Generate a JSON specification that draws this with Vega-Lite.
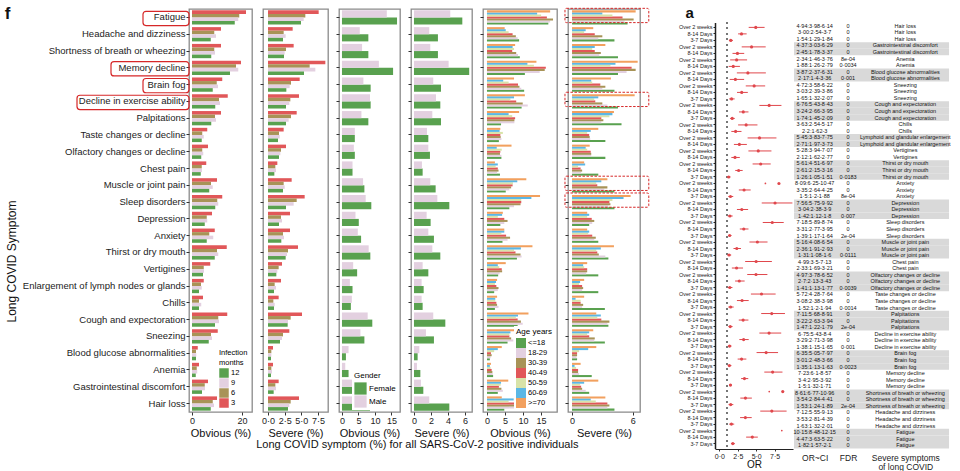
{
"$schema": "https://vega.github.io/schema/vega-lite/v6.json",
"padding": {"left": 4, "top": 5, "right": 0, "bottom": 0},
"resolve": {"scale": {"color": "independent", "yOffset": "independent", "y": "independent", "x": "independent"}, "legend": {"color": "independent"}},
"config": {
  "font": "Liberation Sans",
  "view": {"stroke": null},
  "axis": {"grid": false, "labelColor": "#222", "titleColor": "#111", "tickColor": "#333", "labelFontSize": 9, "titleFontSize": 11, "titleFontWeight": "normal", "tickSize": 3, "labelPadding": 1, "titlePadding": 2, "domainColor": "#111"},
  "axisX": {"labelOverlap": false},
  "legend": {"labelFontSize": 7.5, "titleFontSize": 7.5, "titleFontWeight": "normal", "symbolType": "square", "orient": "bottom-right", "fillColor": "white", "padding": 2, "offset": 2, "rowPadding": 0, "symbolStrokeWidth": 0, "symbolSize": 90, "labelOffset": 2, "titlePadding": 2},
  "title": {"font": "Liberation Sans", "color": "#111"}
},
"datasets": {
"months": [
{"s":"Fatigue","m":"3","ob":21.6,"sv":7.6},{"s":"Fatigue","m":"6","ob":18.9,"sv":5.6},{"s":"Fatigue","m":"9","ob":18.5,"sv":5.35},{"s":"Fatigue","m":"12","ob":17.1,"sv":4.95},
{"s":"Headache and dizziness","m":"3","ob":11.6,"sv":3.7},{"s":"Headache and dizziness","m":"6","ob":8.9,"sv":2.35},{"s":"Headache and dizziness","m":"9","ob":9.6,"sv":2.65},{"s":"Headache and dizziness","m":"12","ob":7.5,"sv":2.25},
{"s":"Shortness of breath or wheezing","m":"3","ob":11.6,"sv":3.85},{"s":"Shortness of breath or wheezing","m":"6","ob":8.9,"sv":2.7},{"s":"Shortness of breath or wheezing","m":"9","ob":9.2,"sv":2.5},{"s":"Shortness of breath or wheezing","m":"12","ob":7.7,"sv":2.4},
{"s":"Memory decline","m":"3","ob":19.6,"sv":8.6},{"s":"Memory decline","m":"6","ob":17.6,"sv":6.25},{"s":"Memory decline","m":"9","ob":18.5,"sv":7.1},{"s":"Memory decline","m":"12","ob":15.2,"sv":5.4},
{"s":"Brain fog","m":"3","ob":12.1,"sv":4.75},{"s":"Brain fog","m":"6","ob":9.9,"sv":3.45},{"s":"Brain fog","m":"9","ob":10.4,"sv":3.25},{"s":"Brain fog","m":"12","ob":8.3,"sv":2.75},
{"s":"Decline in exercise ability","m":"3","ob":14.3,"sv":4.65},{"s":"Decline in exercise ability","m":"6","ob":10.8,"sv":3.35},{"s":"Decline in exercise ability","m":"9","ob":11.2,"sv":3.2},{"s":"Decline in exercise ability","m":"12","ob":9.3,"sv":2.7},
{"s":"Palpitations","m":"3","ob":11.6,"sv":4.3},{"s":"Palpitations","m":"6","ob":9.2,"sv":3.45},{"s":"Palpitations","m":"9","ob":9.6,"sv":3.1},{"s":"Palpitations","m":"12","ob":7.7,"sv":2.7},
{"s":"Taste changes or decline","m":"3","ob":6.1,"sv":2.35},{"s":"Taste changes or decline","m":"6","ob":4.1,"sv":1.65},{"s":"Taste changes or decline","m":"9","ob":4.7,"sv":1.75},{"s":"Taste changes or decline","m":"12","ob":3.9,"sv":1.5},
{"s":"Olfactory changes or decline","m":"3","ob":6.4,"sv":2.7},{"s":"Olfactory changes or decline","m":"6","ob":4.1,"sv":1.95},{"s":"Olfactory changes or decline","m":"9","ob":4.5,"sv":1.85},{"s":"Olfactory changes or decline","m":"12","ob":3.7,"sv":1.65},
{"s":"Chest pain","m":"3","ob":5.7,"sv":1.4},{"s":"Chest pain","m":"6","ob":3.9,"sv":1.1},{"s":"Chest pain","m":"9","ob":4.0,"sv":1.2},{"s":"Chest pain","m":"12","ob":3.5,"sv":0.95},
{"s":"Muscle or joint pain","m":"3","ob":10.0,"sv":3.55},{"s":"Muscle or joint pain","m":"6","ob":7.6,"sv":2.35},{"s":"Muscle or joint pain","m":"9","ob":8.3,"sv":2.5},{"s":"Muscle or joint pain","m":"12","ob":6.9,"sv":2.25},
{"s":"Sleep disorders","m":"3","ob":12.1,"sv":5.5},{"s":"Sleep disorders","m":"6","ob":10.1,"sv":4.3},{"s":"Sleep disorders","m":"9","ob":10.5,"sv":3.85},{"s":"Sleep disorders","m":"12","ob":9.3,"sv":2.7},
{"s":"Depression","m":"3","ob":8.0,"sv":3.3},{"s":"Depression","m":"6","ob":5.9,"sv":1.95},{"s":"Depression","m":"9","ob":6.1,"sv":2.1},{"s":"Depression","m":"12","ob":5.1,"sv":1.65},
{"s":"Anxiety","m":"3","ob":9.1,"sv":3.3},{"s":"Anxiety","m":"6","ob":6.9,"sv":2.25},{"s":"Anxiety","m":"9","ob":8.5,"sv":2.4},{"s":"Anxiety","m":"12","ob":5.9,"sv":2.0},
{"s":"Thirst or dry mouth","m":"3","ob":13.9,"sv":4.5},{"s":"Thirst or dry mouth","m":"6","ob":10.0,"sv":3.0},{"s":"Thirst or dry mouth","m":"9","ob":10.5,"sv":2.85},{"s":"Thirst or dry mouth","m":"12","ob":9.1,"sv":2.65},
{"s":"Vertigines","m":"3","ob":7.3,"sv":2.1},{"s":"Vertigines","m":"6","ob":4.7,"sv":1.6},{"s":"Vertigines","m":"9","ob":4.8,"sv":1.4},{"s":"Vertigines","m":"12","ob":4.4,"sv":1.25},
{"s":"Enlargement of lymph nodes or glands","m":"3","ob":4.7,"sv":1.95},{"s":"Enlargement of lymph nodes or glands","m":"6","ob":3.6,"sv":1.0},{"s":"Enlargement of lymph nodes or glands","m":"9","ob":3.9,"sv":1.2},{"s":"Enlargement of lymph nodes or glands","m":"12","ob":2.8,"sv":0.9},
{"s":"Chills","m":"3","ob":4.4,"sv":1.6},{"s":"Chills","m":"6","ob":2.8,"sv":0.8},{"s":"Chills","m":"9","ob":3.7,"sv":1.0},{"s":"Chills","m":"12","ob":2.8,"sv":0.9},
{"s":"Cough and expectoration","m":"3","ob":14.1,"sv":5.1},{"s":"Cough and expectoration","m":"6","ob":10.5,"sv":3.4},{"s":"Cough and expectoration","m":"9","ob":10.8,"sv":3.0},{"s":"Cough and expectoration","m":"12","ob":9.2,"sv":2.95},
{"s":"Sneezing","m":"3","ob":10.3,"sv":3.2},{"s":"Sneezing","m":"6","ob":7.6,"sv":2.25},{"s":"Sneezing","m":"9","ob":8.0,"sv":2.1},{"s":"Sneezing","m":"12","ob":6.7,"sv":1.8},
{"s":"Blood glucose abnormalities","m":"3","ob":2.3,"sv":0.75},{"s":"Blood glucose abnormalities","m":"6","ob":1.6,"sv":0.5},{"s":"Blood glucose abnormalities","m":"9","ob":1.7,"sv":0.5},{"s":"Blood glucose abnormalities","m":"12","ob":1.6,"sv":0.45},
{"s":"Anemia","m":"3","ob":2.8,"sv":0.75},{"s":"Anemia","m":"6","ob":1.9,"sv":0.5},{"s":"Anemia","m":"9","ob":2.1,"sv":0.6},{"s":"Anemia","m":"12","ob":1.5,"sv":0.45},
{"s":"Gastrointestinal discomfort","m":"3","ob":6.4,"sv":1.6},{"s":"Gastrointestinal discomfort","m":"6","ob":5.1,"sv":1.1},{"s":"Gastrointestinal discomfort","m":"9","ob":5.2,"sv":1.2},{"s":"Gastrointestinal discomfort","m":"12","ob":4.0,"sv":0.85},
{"s":"Hair loss","m":"3","ob":10.3,"sv":4.65},{"s":"Hair loss","m":"6","ob":8.3,"sv":3.4},{"s":"Hair loss","m":"9","ob":8.8,"sv":3.2},{"s":"Hair loss","m":"12","ob":7.5,"sv":3.0}
],
"gender": [
{"s":"Fatigue","g":"Female","ob":16.7,"sv":5.69},{"s":"Fatigue","g":"Male","ob":13.6,"sv":4.27},
{"s":"Headache and dizziness","g":"Female","ob":8.0,"sv":2.82},{"s":"Headache and dizziness","g":"Male","ob":5.4,"sv":1.8},
{"s":"Shortness of breath or wheezing","g":"Female","ob":8.0,"sv":2.82},{"s":"Shortness of breath or wheezing","g":"Male","ob":6.1,"sv":1.92},
{"s":"Memory decline","g":"Female","ob":15.5,"sv":6.5},{"s":"Memory decline","g":"Male","ob":11.2,"sv":4.08},
{"s":"Brain fog","g":"Female","ob":8.7,"sv":3.18},{"s":"Brain fog","g":"Male","ob":6.5,"sv":2.27},
{"s":"Decline in exercise ability","g":"Female","ob":8.7,"sv":3.1},{"s":"Decline in exercise ability","g":"Male","ob":8.5,"sv":2.59},
{"s":"Palpitations","g":"Female","ob":8.0,"sv":3.18},{"s":"Palpitations","g":"Male","ob":5.9,"sv":2.16},
{"s":"Taste changes or decline","g":"Female","ob":3.9,"sv":1.69},{"s":"Taste changes or decline","g":"Male","ob":3.9,"sv":1.53},
{"s":"Olfactory changes or decline","g":"Female","ob":3.9,"sv":1.88},{"s":"Olfactory changes or decline","g":"Male","ob":3.6,"sv":1.69},
{"s":"Chest pain","g":"Female","ob":3.2,"sv":1.02},{"s":"Chest pain","g":"Male","ob":3.2,"sv":0.94},
{"s":"Muscle or joint pain","g":"Female","ob":6.8,"sv":2.55},{"s":"Muscle or joint pain","g":"Male","ob":6.4,"sv":1.92},
{"s":"Sleep disorders","g":"Female","ob":8.9,"sv":4.16},{"s":"Sleep disorders","g":"Male","ob":7.2,"sv":2.75},
{"s":"Depression","g":"Female","ob":5.1,"sv":1.96},{"s":"Depression","g":"Male","ob":4.1,"sv":1.49},
{"s":"Anxiety","g":"Female","ob":5.8,"sv":2.35},{"s":"Anxiety","g":"Male","ob":4.8,"sv":1.69},
{"s":"Thirst or dry mouth","g":"Female","ob":8.6,"sv":3.1},{"s":"Thirst or dry mouth","g":"Male","ob":8.1,"sv":2.16},
{"s":"Vertigines","g":"Female","ob":4.6,"sv":1.69},{"s":"Vertigines","g":"Male","ob":3.4,"sv":1.02},
{"s":"Enlargement of lymph nodes or glands","g":"Female","ob":3.2,"sv":1.14},{"s":"Enlargement of lymph nodes or glands","g":"Male","ob":2.4,"sv":0.9},
{"s":"Chills","g":"Female","ob":2.7,"sv":1.02},{"s":"Chills","g":"Male","ob":3.0,"sv":0.9},
{"s":"Cough and expectoration","g":"Female","ob":9.2,"sv":3.69},{"s":"Cough and expectoration","g":"Male","ob":7.8,"sv":2.27},
{"s":"Sneezing","g":"Female","ob":6.8,"sv":2.35},{"s":"Sneezing","g":"Male","ob":5.6,"sv":1.41},
{"s":"Blood glucose abnormalities","g":"Female","ob":1.2,"sv":0.43},{"s":"Blood glucose abnormalities","g":"Male","ob":2.0,"sv":0.63},
{"s":"Anemia","g":"Female","ob":2.0,"sv":0.75},{"s":"Anemia","g":"Male","ob":1.0,"sv":0.35},
{"s":"Gastrointestinal discomfort","g":"Female","ob":4.1,"sv":1.1},{"s":"Gastrointestinal discomfort","g":"Male","ob":3.8,"sv":0.82},
{"s":"Hair loss","g":"Female","ob":8.5,"sv":4.16},{"s":"Hair loss","g":"Male","ob":4.6,"sv":1.8}
],
"age": [
{"s":"Fatigue","a":"<=18","ob":17.0,"sv":5.5},{"s":"Fatigue","a":"18-29","ob":17.5,"sv":5.2},{"s":"Fatigue","a":"30-39","ob":18.3,"sv":6.1},{"s":"Fatigue","a":"40-49","ob":16.6,"sv":5.0},{"s":"Fatigue","a":"50-59","ob":15.0,"sv":4.0},{"s":"Fatigue","a":"60-69","ob":13.9,"sv":3.0},{"s":"Fatigue","a":">=70","ob":17.5,"sv":6.3},
{"s":"Headache and dizziness","a":"<=18","ob":8.9,"sv":4.2},{"s":"Headache and dizziness","a":"18-29","ob":8.5,"sv":2.6},{"s":"Headache and dizziness","a":"30-39","ob":8.0,"sv":3.0},{"s":"Headache and dizziness","a":"40-49","ob":7.1,"sv":2.25},{"s":"Headache and dizziness","a":"50-59","ob":6.0,"sv":1.2},{"s":"Headache and dizziness","a":"60-69","ob":5.2,"sv":1.35},{"s":"Headache and dizziness","a":">=70","ob":4.9,"sv":2.1},
{"s":"Shortness of breath or wheezing","a":"<=18","ob":9.1,"sv":4.55},{"s":"Shortness of breath or wheezing","a":"18-29","ob":8.6,"sv":2.7},{"s":"Shortness of breath or wheezing","a":"30-39","ob":8.1,"sv":2.85},{"s":"Shortness of breath or wheezing","a":"40-49","ob":7.0,"sv":2.25},{"s":"Shortness of breath or wheezing","a":"50-59","ob":7.5,"sv":2.0},{"s":"Shortness of breath or wheezing","a":"60-69","ob":7.1,"sv":2.25},{"s":"Shortness of breath or wheezing","a":">=70","ob":7.8,"sv":3.3},
{"s":"Memory decline","a":"<=18","ob":10.5,"sv":4.55},{"s":"Memory decline","a":"18-29","ob":14.6,"sv":5.4},{"s":"Memory decline","a":"30-39","ob":16.0,"sv":6.3},{"s":"Memory decline","a":"40-49","ob":16.3,"sv":5.9},{"s":"Memory decline","a":"50-59","ob":13.0,"sv":3.8},{"s":"Memory decline","a":"60-69","ob":11.2,"sv":4.3},{"s":"Memory decline","a":">=70","ob":13.7,"sv":6.5},
{"s":"Brain fog","a":"<=18","ob":10.3,"sv":4.2},{"s":"Brain fog","a":"18-29","ob":9.5,"sv":3.0},{"s":"Brain fog","a":"30-39","ob":9.0,"sv":3.3},{"s":"Brain fog","a":"40-49","ob":8.6,"sv":2.8},{"s":"Brain fog","a":"50-59","ob":6.0,"sv":2.0},{"s":"Brain fog","a":"60-69","ob":4.5,"sv":1.9},{"s":"Brain fog","a":">=70","ob":7.5,"sv":3.85},
{"s":"Decline in exercise ability","a":"<=18","ob":9.6,"sv":4.55},{"s":"Decline in exercise ability","a":"18-29","ob":11.3,"sv":3.5},{"s":"Decline in exercise ability","a":"30-39","ob":9.9,"sv":3.0},{"s":"Decline in exercise ability","a":"40-49","ob":8.1,"sv":2.3},{"s":"Decline in exercise ability","a":"50-59","ob":6.5,"sv":2.2},{"s":"Decline in exercise ability","a":"60-69","ob":7.5,"sv":2.6},{"s":"Decline in exercise ability","a":">=70","ob":10.5,"sv":6.2},
{"s":"Palpitations","a":"<=18","ob":3.9,"sv":4.9},{"s":"Palpitations","a":"18-29","ob":7.6,"sv":2.9},{"s":"Palpitations","a":"30-39","ob":7.6,"sv":3.1},{"s":"Palpitations","a":"40-49","ob":7.8,"sv":2.9},{"s":"Palpitations","a":"50-59","ob":7.0,"sv":3.7},{"s":"Palpitations","a":"60-69","ob":6.0,"sv":4.0},{"s":"Palpitations","a":">=70","ob":8.9,"sv":4.15},
{"s":"Taste changes or decline","a":"<=18","ob":3.3,"sv":3.3},{"s":"Taste changes or decline","a":"18-29","ob":4.0,"sv":1.8},{"s":"Taste changes or decline","a":"30-39","ob":3.8,"sv":1.75},{"s":"Taste changes or decline","a":"40-49","ob":3.7,"sv":1.7},{"s":"Taste changes or decline","a":"50-59","ob":4.4,"sv":1.5},{"s":"Taste changes or decline","a":"60-69","ob":3.5,"sv":1.85},{"s":"Taste changes or decline","a":">=70","ob":3.7,"sv":2.6},
{"s":"Olfactory changes or decline","a":"<=18","ob":4.0,"sv":3.3},{"s":"Olfactory changes or decline","a":"18-29","ob":4.0,"sv":1.9},{"s":"Olfactory changes or decline","a":"30-39","ob":3.6,"sv":1.9},{"s":"Olfactory changes or decline","a":"40-49","ob":3.7,"sv":1.85},{"s":"Olfactory changes or decline","a":"50-59","ob":4.1,"sv":1.5},{"s":"Olfactory changes or decline","a":"60-69","ob":2.7,"sv":1.35},{"s":"Olfactory changes or decline","a":">=70","ob":6.8,"sv":1.75},
{"s":"Chest pain","a":"<=18","ob":3.6,"sv":2.6},{"s":"Chest pain","a":"18-29","ob":2.8,"sv":0.9},{"s":"Chest pain","a":"30-39","ob":3.2,"sv":1.0},{"s":"Chest pain","a":"40-49","ob":3.0,"sv":0.85},{"s":"Chest pain","a":"50-59","ob":2.4,"sv":0.6},{"s":"Chest pain","a":"60-69","ob":3.0,"sv":1.3},{"s":"Chest pain","a":">=70","ob":2.2,"sv":1.2},
{"s":"Muscle or joint pain","a":"<=18","ob":5.2,"sv":4.2},{"s":"Muscle or joint pain","a":"18-29","ob":6.2,"sv":3.2},{"s":"Muscle or joint pain","a":"30-39","ob":6.7,"sv":3.5},{"s":"Muscle or joint pain","a":"40-49","ob":7.1,"sv":2.5},{"s":"Muscle or joint pain","a":"50-59","ob":7.2,"sv":2.4},{"s":"Muscle or joint pain","a":"60-69","ob":8.4,"sv":2.9},{"s":"Muscle or joint pain","a":">=70","ob":10.9,"sv":3.5},
{"s":"Sleep disorders","a":"<=18","ob":6.2,"sv":4.2},{"s":"Sleep disorders","a":"18-29","ob":7.5,"sv":3.6},{"s":"Sleep disorders","a":"30-39","ob":9.3,"sv":3.8},{"s":"Sleep disorders","a":"40-49","ob":9.5,"sv":3.7},{"s":"Sleep disorders","a":"50-59","ob":9.5,"sv":4.0},{"s":"Sleep disorders","a":"60-69","ob":12.3,"sv":5.1},{"s":"Sleep disorders","a":">=70","ob":14.7,"sv":5.8},
{"s":"Depression","a":"<=18","ob":3.7,"sv":1.7},{"s":"Depression","a":"18-29","ob":4.8,"sv":2.0},{"s":"Depression","a":"30-39","ob":5.7,"sv":2.2},{"s":"Depression","a":"40-49","ob":4.8,"sv":1.95},{"s":"Depression","a":"50-59","ob":3.0,"sv":1.5},{"s":"Depression","a":"60-69","ob":4.2,"sv":1.7},{"s":"Depression","a":">=70","ob":4.4,"sv":1.5},
{"s":"Anxiety","a":"<=18","ob":4.3,"sv":2.6},{"s":"Anxiety","a":"18-29","ob":5.7,"sv":2.2},{"s":"Anxiety","a":"30-39","ob":6.4,"sv":2.35},{"s":"Anxiety","a":"40-49","ob":5.3,"sv":2.0},{"s":"Anxiety","a":"50-59","ob":4.0,"sv":1.6},{"s":"Anxiety","a":"60-69","ob":4.8,"sv":1.7},{"s":"Anxiety","a":">=70","ob":4.8,"sv":1.5},
{"s":"Thirst or dry mouth","a":"<=18","ob":8.3,"sv":3.6},{"s":"Thirst or dry mouth","a":"18-29","ob":9.6,"sv":3.3},{"s":"Thirst or dry mouth","a":"30-39","ob":9.3,"sv":2.65},{"s":"Thirst or dry mouth","a":"40-49","ob":7.9,"sv":2.5},{"s":"Thirst or dry mouth","a":"50-59","ob":7.5,"sv":2.4},{"s":"Thirst or dry mouth","a":"60-69","ob":9.4,"sv":2.85},{"s":"Thirst or dry mouth","a":">=70","ob":12.6,"sv":4.15},
{"s":"Vertigines","a":"<=18","ob":3.1,"sv":2.6},{"s":"Vertigines","a":"18-29","ob":3.5,"sv":1.4},{"s":"Vertigines","a":"30-39","ob":4.2,"sv":1.5},{"s":"Vertigines","a":"40-49","ob":4.1,"sv":1.5},{"s":"Vertigines","a":"50-59","ob":3.4,"sv":1.2},{"s":"Vertigines","a":"60-69","ob":3.0,"sv":1.1},{"s":"Vertigines","a":">=70","ob":5.2,"sv":1.5},
{"s":"Enlargement of lymph nodes or glands","a":"<=18","ob":2.0,"sv":2.6},{"s":"Enlargement of lymph nodes or glands","a":"18-29","ob":3.0,"sv":1.0},{"s":"Enlargement of lymph nodes or glands","a":"30-39","ob":3.2,"sv":1.1},{"s":"Enlargement of lymph nodes or glands","a":"40-49","ob":2.6,"sv":1.0},{"s":"Enlargement of lymph nodes or glands","a":"50-59","ob":2.2,"sv":0.7},{"s":"Enlargement of lymph nodes or glands","a":"60-69","ob":2.5,"sv":0.8},{"s":"Enlargement of lymph nodes or glands","a":">=70","ob":2.8,"sv":1.2},
{"s":"Chills","a":"<=18","ob":2.2,"sv":3.25},{"s":"Chills","a":"18-29","ob":3.2,"sv":1.0},{"s":"Chills","a":"30-39","ob":2.8,"sv":1.1},{"s":"Chills","a":"40-49","ob":2.6,"sv":0.85},{"s":"Chills","a":"50-59","ob":2.3,"sv":0.85},{"s":"Chills","a":"60-69","ob":2.3,"sv":0.35},{"s":"Chills","a":">=70","ob":2.8,"sv":1.2},
{"s":"Cough and expectoration","a":"<=18","ob":8.5,"sv":3.6},{"s":"Cough and expectoration","a":"18-29","ob":9.9,"sv":3.5},{"s":"Cough and expectoration","a":"30-39","ob":9.4,"sv":3.7},{"s":"Cough and expectoration","a":"40-49","ob":8.5,"sv":2.9},{"s":"Cough and expectoration","a":"50-59","ob":8.0,"sv":2.5},{"s":"Cough and expectoration","a":"60-69","ob":8.6,"sv":2.85},{"s":"Cough and expectoration","a":">=70","ob":11.5,"sv":2.4},
{"s":"Sneezing","a":"<=18","ob":5.7,"sv":3.25},{"s":"Sneezing","a":"18-29","ob":7.3,"sv":2.2},{"s":"Sneezing","a":"30-39","ob":6.7,"sv":2.25},{"s":"Sneezing","a":"40-49","ob":6.2,"sv":1.7},{"s":"Sneezing","a":"50-59","ob":6.2,"sv":1.5},{"s":"Sneezing","a":"60-69","ob":6.5,"sv":1.7},{"s":"Sneezing","a":">=70","ob":10.6,"sv":2.1},
{"s":"Blood glucose abnormalities","a":"<=18","ob":0.8,"sv":0.5},{"s":"Blood glucose abnormalities","a":"18-29","ob":1.0,"sv":0.45},{"s":"Blood glucose abnormalities","a":"30-39","ob":1.3,"sv":0.5},{"s":"Blood glucose abnormalities","a":"40-49","ob":1.1,"sv":0.5},{"s":"Blood glucose abnormalities","a":"50-59","ob":2.0,"sv":0.7},{"s":"Blood glucose abnormalities","a":"60-69","ob":3.0,"sv":1.6},{"s":"Blood glucose abnormalities","a":">=70","ob":4.1,"sv":2.4},
{"s":"Anemia","a":"<=18","ob":1.7,"sv":1.95},{"s":"Anemia","a":"18-29","ob":1.6,"sv":0.7},{"s":"Anemia","a":"30-39","ob":1.5,"sv":0.6},{"s":"Anemia","a":"40-49","ob":1.3,"sv":0.6},{"s":"Anemia","a":"50-59","ob":1.0,"sv":0.4},{"s":"Anemia","a":"60-69","ob":0.8,"sv":0.25},{"s":"Anemia","a":">=70","ob":1.1,"sv":0.85},
{"s":"Gastrointestinal discomfort","a":"<=18","ob":3.0,"sv":1.7},{"s":"Gastrointestinal discomfort","a":"18-29","ob":4.4,"sv":1.35},{"s":"Gastrointestinal discomfort","a":"30-39","ob":4.0,"sv":1.0},{"s":"Gastrointestinal discomfort","a":"40-49","ob":3.3,"sv":0.9},{"s":"Gastrointestinal discomfort","a":"50-59","ob":3.8,"sv":0.8},{"s":"Gastrointestinal discomfort","a":"60-69","ob":3.9,"sv":1.2},{"s":"Gastrointestinal discomfort","a":">=70","ob":5.9,"sv":2.6},
{"s":"Hair loss","a":"<=18","ob":4.8,"sv":4.2},{"s":"Hair loss","a":"18-29","ob":7.8,"sv":3.5},{"s":"Hair loss","a":"30-39","ob":8.1,"sv":3.7},{"s":"Hair loss","a":"40-49","ob":7.6,"sv":3.5},{"s":"Hair loss","a":"50-59","ob":6.0,"sv":2.35},{"s":"Hair loss","a":"60-69","ob":7.4,"sv":1.85},{"s":"Hair loss","a":">=70","ob":4.1,"sv":3.3}
],
"forest": [
{"k":"01 Over 2 weeks","s":"Hair loss","or":4.94,"lo":3.98,"hi":6.14,"t":"4·94:3·98-6·14","f":"0"},
{"k":"02 8-14 Days","s":"Hair loss","or":3.00,"lo":2.54,"hi":3.70,"t":"3·00:2·54-3·7","f":"0"},
{"k":"03 3-7 Days","s":"Hair loss","or":1.54,"lo":1.29,"hi":1.84,"t":"1·54:1·29-1·84","f":"0"},
{"k":"04 Over 2 weeks","s":"Gastrointestinal discomfort","or":4.37,"lo":3.03,"hi":6.29,"t":"4·37:3·03-6·29","f":"0"},
{"k":"05 8-14 Days","s":"Gastrointestinal discomfort","or":2.45,"lo":1.78,"hi":3.37,"t":"2·45:1·78-3·37","f":"0"},
{"k":"06 Over 2 weeks","s":"Anemia","or":2.34,"lo":1.46,"hi":3.76,"t":"2·34:1·46-3·76","f":"8e-04"},
{"k":"07 8-14 Days","s":"Anemia","or":1.88,"lo":1.26,"hi":2.79,"t":"1·88:1·26-2·79","f":"0·0034"},
{"k":"08 Over 2 weeks","s":"Blood glucose abnormalities","or":3.87,"lo":2.37,"hi":6.31,"t":"3·87:2·37-6·31","f":"0"},
{"k":"09 8-14 Days","s":"Blood glucose abnormalities","or":2.17,"lo":1.40,"hi":3.36,"t":"2·17:1·4-3·36","f":"0·001"},
{"k":"10 Over 2 weeks","s":"Sneezing","or":4.72,"lo":3.58,"hi":6.22,"t":"4·72:3·58-6·22","f":"0"},
{"k":"11 8-14 Days","s":"Sneezing","or":3.03,"lo":2.39,"hi":3.86,"t":"3·03:2·39-3·86","f":"0"},
{"k":"12 3-7 Days","s":"Sneezing","or":1.65,"lo":1.32,"hi":2.07,"t":"1·65:1·32-2·07","f":"0"},
{"k":"13 Over 2 weeks","s":"Cough and expectoration","or":6.76,"lo":5.43,"hi":8.43,"t":"6·76:5·43-8·43","f":"0"},
{"k":"14 8-14 Days","s":"Cough and expectoration","or":3.24,"lo":2.66,"hi":3.95,"t":"3·24:2·66-3·95","f":"0"},
{"k":"15 3-7 Days","s":"Cough and expectoration","or":1.74,"lo":1.45,"hi":2.09,"t":"1·74:1·45-2·09","f":"0"},
{"k":"16 Over 2 weeks","s":"Chills","or":3.63,"lo":2.54,"hi":5.17,"t":"3·63:2·54-5·17","f":"0"},
{"k":"17 8-14 Days","s":"Chills","or":2.20,"lo":1.62,"hi":3.00,"t":"2·2:1·62-3","f":"0"},
{"k":"18 Over 2 weeks","s":"Lymphoid and glandular enlargement","or":5.45,"lo":3.83,"hi":7.75,"t":"5·45:3·83-7·75","f":"0"},
{"k":"19 8-14 Days","s":"Lymphoid and glandular enlargement","or":2.71,"lo":1.97,"hi":3.73,"t":"2·71:1·97-3·73","f":"0"},
{"k":"20 Over 2 weeks","s":"Vertigines","or":5.28,"lo":3.94,"hi":7.07,"t":"5·28:3·94-7·07","f":"0"},
{"k":"21 8-14 Days","s":"Vertigines","or":2.12,"lo":1.62,"hi":2.77,"t":"2·12:1·62-2·77","f":"0"},
{"k":"22 Over 2 weeks","s":"Thirst or dry mouth","or":5.61,"lo":4.51,"hi":6.97,"t":"5·61:4·51-6·97","f":"0"},
{"k":"23 8-14 Days","s":"Thirst or dry mouth","or":2.61,"lo":2.15,"hi":3.16,"t":"2·61:2·15-3·16","f":"0"},
{"k":"24 3-7 Days","s":"Thirst or dry mouth","or":1.26,"lo":1.05,"hi":1.51,"t":"1·26:1·05-1·51","f":"0·0183"},
{"k":"25 Over 2 weeks","s":"Anxiety","or":8.09,"lo":6.25,"hi":10.47,"t":"8·09:6·25-10·47","f":"0"},
{"k":"26 8-14 Days","s":"Anxiety","or":3.35,"lo":2.64,"hi":4.25,"t":"3·35:2·64-4·25","f":"0"},
{"k":"27 3-7 Days","s":"Anxiety","or":1.50,"lo":1.20,"hi":1.88,"t":"1·5:1·2-1·88","f":"8e-04"},
{"k":"28 Over 2 weeks","s":"Depression","or":7.56,"lo":5.75,"hi":9.92,"t":"7·56:5·75-9·92","f":"0"},
{"k":"29 8-14 Days","s":"Depression","or":3.04,"lo":2.38,"hi":3.90,"t":"3·04:2·38-3·9","f":"0"},
{"k":"30 3-7 Days","s":"Depression","or":1.42,"lo":1.12,"hi":1.80,"t":"1·42:1·12-1·8","f":"0·007"},
{"k":"31 Over 2 weeks","s":"Sleep disorders","or":7.18,"lo":5.89,"hi":8.74,"t":"7·18:5·89-8·74","f":"0"},
{"k":"32 8-14 Days","s":"Sleep disorders","or":3.31,"lo":2.77,"hi":3.95,"t":"3·31:2·77-3·95","f":"0"},
{"k":"33 3-7 Days","s":"Sleep disorders","or":1.39,"lo":1.17,"hi":1.64,"t":"1·39:1·17-1·64","f":"2e-04"},
{"k":"34 Over 2 weeks","s":"Muscle or joint pain","or":5.16,"lo":4.08,"hi":6.54,"t":"5·16:4·08-6·54","f":"0"},
{"k":"35 8-14 Days","s":"Muscle or joint pain","or":2.36,"lo":1.91,"hi":2.93,"t":"2·36:1·91-2·93","f":"0"},
{"k":"36 3-7 Days","s":"Muscle or joint pain","or":1.31,"lo":1.08,"hi":1.60,"t":"1·31:1·08-1·6","f":"0·0111"},
{"k":"37 Over 2 weeks","s":"Chest pain","or":4.99,"lo":3.50,"hi":7.13,"t":"4·99:3·5-7·13","f":"0"},
{"k":"38 8-14 Days","s":"Chest pain","or":2.33,"lo":1.69,"hi":3.21,"t":"2·33:1·69-3·21","f":"0"},
{"k":"39 Over 2 weeks","s":"Olfactory changes or decline","or":4.97,"lo":3.78,"hi":6.52,"t":"4·97:3·78-6·52","f":"0"},
{"k":"40 8-14 Days","s":"Olfactory changes or decline","or":2.70,"lo":2.13,"hi":3.43,"t":"2·7:2·13-3·43","f":"0"},
{"k":"41 3-7 Days","s":"Olfactory changes or decline","or":1.41,"lo":1.13,"hi":1.77,"t":"1·41:1·13-1·77","f":"0·0039"},
{"k":"42 Over 2 weeks","s":"Taste changes or decline","or":5.72,"lo":4.28,"hi":7.64,"t":"5·72:4·28-7·64","f":"0"},
{"k":"43 8-14 Days","s":"Taste changes or decline","or":3.08,"lo":2.38,"hi":3.98,"t":"3·08:2·38-3·98","f":"0"},
{"k":"44 3-7 Days","s":"Taste changes or decline","or":1.52,"lo":1.20,"hi":1.94,"t":"1·52:1·2-1·94","f":"0·0014"},
{"k":"45 Over 2 weeks","s":"Palpitations","or":7.11,"lo":5.68,"hi":8.91,"t":"7·11:5·68-8·91","f":"0"},
{"k":"46 8-14 Days","s":"Palpitations","or":3.22,"lo":2.63,"hi":3.94,"t":"3·22:2·63-3·94","f":"0"},
{"k":"47 3-7 Days","s":"Palpitations","or":1.47,"lo":1.22,"hi":1.79,"t":"1·47:1·22-1·79","f":"2e-04"},
{"k":"48 Over 2 weeks","s":"Decline in exercise ability","or":6.75,"lo":5.43,"hi":8.40,"t":"6·75:5·43-8·4","f":"0"},
{"k":"49 8-14 Days","s":"Decline in exercise ability","or":3.29,"lo":2.71,"hi":3.98,"t":"3·29:2·71-3·98","f":"0"},
{"k":"50 3-7 Days","s":"Decline in exercise ability","or":1.38,"lo":1.15,"hi":1.65,"t":"1·38:1·15-1·65","f":"0·001"},
{"k":"51 Over 2 weeks","s":"Brain fog","or":6.35,"lo":5.05,"hi":7.97,"t":"6·35:5·05-7·97","f":"0"},
{"k":"52 8-14 Days","s":"Brain fog","or":3.01,"lo":2.48,"hi":3.66,"t":"3·01:2·48-3·66","f":"0"},
{"k":"53 3-7 Days","s":"Brain fog","or":1.35,"lo":1.13,"hi":1.63,"t":"1·35:1·13-1·63","f":"0·0023"},
{"k":"54 Over 2 weeks","s":"Memory decline","or":7.23,"lo":6.10,"hi":8.57,"t":"7·23:6·1-8·57","f":"0"},
{"k":"55 8-14 Days","s":"Memory decline","or":3.40,"lo":2.95,"hi":3.92,"t":"3·4:2·95-3·92","f":"0"},
{"k":"56 3-7 Days","s":"Memory decline","or":1.50,"lo":1.32,"hi":1.71,"t":"1·5:1·32-1·71","f":"0"},
{"k":"57 Over 2 weeks","s":"Shortness of breath or wheezing","or":8.61,"lo":6.77,"hi":10.96,"t":"8·61:6·77-10·96","f":"0"},
{"k":"58 8-14 Days","s":"Shortness of breath or wheezing","or":3.54,"lo":2.84,"hi":4.41,"t":"3·54:2·84-4·41","f":"0"},
{"k":"59 3-7 Days","s":"Shortness of breath or wheezing","or":1.53,"lo":1.24,"hi":1.89,"t":"1·53:1·24-1·89","f":"2e-04"},
{"k":"60 Over 2 weeks","s":"Headache and dizziness","or":7.12,"lo":5.55,"hi":9.13,"t":"7·12:5·55-9·13","f":"0"},
{"k":"61 8-14 Days","s":"Headache and dizziness","or":3.53,"lo":2.81,"hi":4.39,"t":"3·53:2·81-4·39","f":"0"},
{"k":"62 3-7 Days","s":"Headache and dizziness","or":1.63,"lo":1.32,"hi":2.01,"t":"1·63:1·32-2·01","f":"0"},
{"k":"63 Over 2 weeks","s":"Fatigue","or":10.15,"lo":8.48,"hi":12.15,"t":"10·15:8·48-12·15","f":"0"},
{"k":"64 8-14 Days","s":"Fatigue","or":4.47,"lo":3.63,"hi":5.22,"t":"4·47:3·63-5·22","f":"0"},
{"k":"65 3-7 Days","s":"Fatigue","or":1.82,"lo":1.57,"hi":2.10,"t":"1·82:1·57-2·1","f":"0"}
]
},
"hconcat": [
{
  "title": {"text": "f", "anchor": "start", "frame": "bounds", "fontSize": 17, "fontWeight": "bold", "offset": -16},
  "resolve": {"scale": {"color": "independent", "yOffset": "independent", "y": "independent", "x": "independent"}, "legend": {"color": "independent"}},
  "vconcat": [
  {
    "title": {"text": "Long COVID symptom (%) for all SARS-CoV-2 positive individuals", "orient": "bottom", "anchor": "middle", "frame": "bounds", "fontSize": 11, "fontWeight": "normal", "offset": 0, "dx": 90},
    "resolve": {"scale": {"color": "independent", "yOffset": "independent", "y": "independent", "x": "independent"}, "legend": {"color": "independent"}},
    "spacing": 5,
    "hconcat": [
    {
      "width": 63, "height": 403,
      "view": {"stroke": "#8a8a8a", "strokeWidth": 1.3},
      "data": {"name": "months"},
      "encoding": {"y": {"field": "s", "type": "nominal", "sort": ["Fatigue","Headache and dizziness","Shortness of breath or wheezing","Memory decline","Brain fog","Decline in exercise ability","Palpitations","Taste changes or decline","Olfactory changes or decline","Chest pain","Muscle or joint pain","Sleep disorders","Depression","Anxiety","Thirst or dry mouth","Vertigines","Enlargement of lymph nodes or glands","Chills","Cough and expectoration","Sneezing","Blood glucose abnormalities","Anemia","Gastrointestinal discomfort","Hair loss"], "scale": {"paddingInner": 0.15, "paddingOuter": 0.08}, "axis": {"title": "Long COVID Symptom", "labelFontSize": 9.5, "titleFontSize": 12, "titleY": 252, "domain": false, "titlePadding": 4}}},
      "layer": [
        {"mark": {"type": "bar"},
         "encoding": {
           "yOffset": {"field": "m", "type": "nominal", "sort": ["3","6","9","12"]},
           "x": {"field": "ob", "type": "quantitative", "stack": null, "scale": {"domain": [-1.2, 24], "nice": false, "zero": false}, "axis": {"values": [0,5,10,15,20], "title": "Obvious (%)", "domain": false}},
           "color": {"field": "m", "type": "nominal", "scale": {"domain": ["12","9","6","3"], "range": ["#59A14F","#E3D0E0","#A89357","#E15759"]}, "legend": {"title": ["Infection","months"]}}
         }},
        {"transform": [{"filter": "datum.s == 'Fatigue' && datum.m == '3'"}], "mark": {"type": "rect", "filled": false, "stroke": "#d62728", "strokeWidth": 1.2, "cornerRadius": 3, "yOffset": 1, "y2Offset": -1}, "encoding": {"x": {"datum": -19.6, "type": "quantitative"}, "x2": {"datum": -1.2}}},
        {"transform": [{"filter": "datum.s == 'Memory decline' && datum.m == '3'"}], "mark": {"type": "rect", "filled": false, "stroke": "#d62728", "strokeWidth": 1.2, "cornerRadius": 3, "yOffset": 1, "y2Offset": -1}, "encoding": {"x": {"datum": -32.4, "type": "quantitative"}, "x2": {"datum": -1.2}}},
        {"transform": [{"filter": "datum.s == 'Brain fog' && datum.m == '3'"}], "mark": {"type": "rect", "filled": false, "stroke": "#d62728", "strokeWidth": 1.2, "cornerRadius": 3, "yOffset": 1, "y2Offset": -1}, "encoding": {"x": {"datum": -19.6, "type": "quantitative"}, "x2": {"datum": -1.2}}},
        {"transform": [{"filter": "datum.s == 'Decline in exercise ability' && datum.m == '3'"}], "mark": {"type": "rect", "filled": false, "stroke": "#d62728", "strokeWidth": 1.2, "cornerRadius": 3, "yOffset": 1, "y2Offset": -1}, "encoding": {"x": {"datum": -46, "type": "quantitative"}, "x2": {"datum": -1.2}}}
      ]
    },
    {
      "width": 65, "height": 403,
      "view": {"stroke": "#8a8a8a", "strokeWidth": 1.3},
      "data": {"name": "months"},
      "mark": {"type": "bar"},
      "encoding": {
        "y": {"field": "s", "type": "nominal", "sort": ["Fatigue","Headache and dizziness","Shortness of breath or wheezing","Memory decline","Brain fog","Decline in exercise ability","Palpitations","Taste changes or decline","Olfactory changes or decline","Chest pain","Muscle or joint pain","Sleep disorders","Depression","Anxiety","Thirst or dry mouth","Vertigines","Enlargement of lymph nodes or glands","Chills","Cough and expectoration","Sneezing","Blood glucose abnormalities","Anemia","Gastrointestinal discomfort","Hair loss"], "scale": {"paddingInner": 0.15, "paddingOuter": 0.08}, "axis": {"title": null, "labels": false, "domain": false}},
        "yOffset": {"field": "m", "type": "nominal", "sort": ["3","6","9","12"]},
        "x": {"field": "sv", "type": "quantitative", "stack": null, "scale": {"domain": [-0.75, 9], "nice": false, "zero": false}, "axis": {"values": [0,2.5,5,7.5], "format": ".1f", "labelExpr": "replace(datum.label, '.', '·')", "title": "Severe (%)", "domain": false}},
        "color": {"field": "m", "type": "nominal", "scale": {"domain": ["12","9","6","3"], "range": ["#59A14F","#E3D0E0","#A89357","#E15759"]}, "legend": null}
      }
    },
    {
      "width": 61, "height": 403,
      "view": {"stroke": "#8a8a8a", "strokeWidth": 1.3},
      "data": {"name": "gender"},
      "mark": {"type": "bar"},
      "encoding": {
        "y": {"field": "s", "type": "nominal", "sort": ["Fatigue","Headache and dizziness","Shortness of breath or wheezing","Memory decline","Brain fog","Decline in exercise ability","Palpitations","Taste changes or decline","Olfactory changes or decline","Chest pain","Muscle or joint pain","Sleep disorders","Depression","Anxiety","Thirst or dry mouth","Vertigines","Enlargement of lymph nodes or glands","Chills","Cough and expectoration","Sneezing","Blood glucose abnormalities","Anemia","Gastrointestinal discomfort","Hair loss"], "scale": {"paddingInner": 0.15, "paddingOuter": 0.08}, "axis": {"title": null, "labels": false, "domain": false}},
        "yOffset": {"field": "g", "type": "nominal", "sort": ["Male","Female"]},
        "x": {"field": "ob", "type": "quantitative", "stack": null, "scale": {"domain": [-0.9, 17.6], "nice": false, "zero": false}, "axis": {"values": [0,5,10,15], "title": "Obvious (%)", "domain": false}},
        "color": {"field": "g", "type": "nominal", "scale": {"domain": ["Female","Male"], "range": ["#59A14F","#E3D0E0"]}, "legend": {"title": "Gender", "symbolSize": 150, "labelFontSize": 8, "titleFontSize": 8}}
      }
    },
    {
      "width": 61, "height": 403,
      "view": {"stroke": "#8a8a8a", "strokeWidth": 1.3},
      "data": {"name": "gender"},
      "mark": {"type": "bar"},
      "encoding": {
        "y": {"field": "s", "type": "nominal", "sort": ["Fatigue","Headache and dizziness","Shortness of breath or wheezing","Memory decline","Brain fog","Decline in exercise ability","Palpitations","Taste changes or decline","Olfactory changes or decline","Chest pain","Muscle or joint pain","Sleep disorders","Depression","Anxiety","Thirst or dry mouth","Vertigines","Enlargement of lymph nodes or glands","Chills","Cough and expectoration","Sneezing","Blood glucose abnormalities","Anemia","Gastrointestinal discomfort","Hair loss"], "scale": {"paddingInner": 0.15, "paddingOuter": 0.08}, "axis": {"title": null, "labels": false, "domain": false}},
        "yOffset": {"field": "g", "type": "nominal", "sort": ["Male","Female"]},
        "x": {"field": "sv", "type": "quantitative", "stack": null, "scale": {"domain": [-0.35, 6.83], "nice": false, "zero": false}, "axis": {"values": [0,2,4,6], "title": "Severe (%)", "domain": false}},
        "color": {"field": "g", "type": "nominal", "scale": {"domain": ["Female","Male"], "range": ["#59A14F","#E3D0E0"]}, "legend": null}
      }
    },
    {
      "width": 74, "height": 403,
      "view": {"stroke": "#8a8a8a", "strokeWidth": 1.3},
      "data": {"name": "age"},
      "mark": {"type": "bar"},
      "encoding": {
        "y": {"field": "s", "type": "nominal", "sort": ["Fatigue","Headache and dizziness","Shortness of breath or wheezing","Memory decline","Brain fog","Decline in exercise ability","Palpitations","Taste changes or decline","Olfactory changes or decline","Chest pain","Muscle or joint pain","Sleep disorders","Depression","Anxiety","Thirst or dry mouth","Vertigines","Enlargement of lymph nodes or glands","Chills","Cough and expectoration","Sneezing","Blood glucose abnormalities","Anemia","Gastrointestinal discomfort","Hair loss"], "scale": {"paddingInner": 0.15, "paddingOuter": 0.08}, "axis": {"title": null, "labels": false, "domain": false}},
        "yOffset": {"field": "a", "type": "nominal", "sort": [">=70","60-69","50-59","40-49","30-39","18-29","<=18"]},
        "x": {"field": "ob", "type": "quantitative", "stack": null, "scale": {"domain": [-1.1, 19.4], "nice": false, "zero": false}, "axis": {"values": [0,5,10,15], "title": "Obvious (%)", "domain": false}},
        "color": {"field": "a", "type": "nominal", "scale": {"domain": ["<=18","18-29","30-39","40-49","50-59","60-69",">=70"], "range": ["#59A14F","#E3D0E0","#A89357","#E15759","#D8E3A8","#5BB7E5","#F2A05E"]}, "legend": {"title": "Age years", "labelFontSize": 7.5, "titleFontSize": 8, "symbolSize": 100}}
      }
    },
    {
      "width": 72, "height": 403,
      "view": {"stroke": "#8a8a8a", "strokeWidth": 1.3},
      "data": {"name": "age"},
      "encoding": {"y": {"field": "s", "type": "nominal", "sort": ["Fatigue","Headache and dizziness","Shortness of breath or wheezing","Memory decline","Brain fog","Decline in exercise ability","Palpitations","Taste changes or decline","Olfactory changes or decline","Chest pain","Muscle or joint pain","Sleep disorders","Depression","Anxiety","Thirst or dry mouth","Vertigines","Enlargement of lymph nodes or glands","Chills","Cough and expectoration","Sneezing","Blood glucose abnormalities","Anemia","Gastrointestinal discomfort","Hair loss"], "scale": {"paddingInner": 0.15, "paddingOuter": 0.08}, "axis": {"title": null, "labels": false, "domain": false}}},
      "layer": [
        {"mark": {"type": "bar"},
         "encoding": {
           "yOffset": {"field": "a", "type": "nominal", "sort": [">=70","60-69","50-59","40-49","30-39","18-29","<=18"]},
           "x": {"field": "sv", "type": "quantitative", "stack": null, "scale": {"domain": [-0.4, 6.73], "nice": false, "zero": false}, "axis": {"values": [0,2,4,6], "title": "Severe (%)", "domain": false}},
           "color": {"field": "a", "type": "nominal", "scale": {"domain": ["<=18","18-29","30-39","40-49","50-59","60-69",">=70"], "range": ["#59A14F","#E3D0E0","#A89357","#E15759","#D8E3A8","#5BB7E5","#F2A05E"]}, "legend": null}
         }},
        {"transform": [{"filter": "datum.a == '>=70' && (datum.s == 'Fatigue' || datum.s == 'Decline in exercise ability' || datum.s == 'Muscle or joint pain' || datum.s == 'Sleep disorders')"}],
         "mark": {"type": "rect", "filled": false, "stroke": "#d62728", "strokeWidth": 1, "strokeDash": [2.5, 1.5], "cornerRadius": 1.5, "yOffset": -2, "y2Offset": -8},
         "encoding": {"x": {"datum": -0.7, "type": "quantitative"}, "x2": {"datum": 7.6}}}
      ]
    }
    ]
  }
  ]
},
{
  "title": {"text": "a", "anchor": "start", "frame": "bounds", "fontSize": 15, "fontWeight": "bold", "offset": -12, "dx": 7},
  "resolve": {"scale": {"y": "independent", "x": "independent"}},
  "spacing": 0,
  "hconcat": [
  {
    "width": 78, "height": 440,
    "data": {"name": "forest"},
    "layer": [
      {"mark": {"type": "rule", "color": "#777", "strokeDash": [1.5, 4], "strokeWidth": 1.2},
       "encoding": {"x": {"datum": 1, "type": "quantitative", "scale": {"domain": [-0.6, 10], "nice": false, "zero": false}}, "y": {"value": 13}, "y2": {"value": 440}}},
      {"transform": [{"filter": "datum.hi <= 10"}],
       "mark": {"type": "rule", "color": "#E0474C", "strokeWidth": 1},
       "encoding": {
         "y": {"field": "k", "type": "ordinal", "scale": {"padding": 0.5, "range": [13.5, 439.5]}, "axis": {"title": null, "labelFontSize": 5.5, "labelExpr": "substring(datum.label, 3)", "tickSize": 2, "labelPadding": 1, "domain": true, "domainWidth": 1.5, "domainColor": "#222", "tickColor": "#222"}},
         "x": {"field": "lo", "type": "quantitative", "axis": {"values": [0, 2.5, 5, 7.5], "tickCount": 10, "labelExpr": "datum.value == 0 ? '0·0' : datum.value == 2.5 ? '2·5' : datum.value == 5 ? '5·0' : '7·5'", "title": "OR", "labelFontSize": 7, "titleFontSize": 10, "titlePadding": 0, "tickSize": 2, "labelOverlap": false, "labelFlush": false, "domainColor": "#222", "domainWidth": 1.2}},
         "x2": {"field": "hi"}
       }},
      {"transform": [{"filter": "datum.hi > 10"}],
       "mark": {"type": "circle", "color": "#E0474C", "size": 3, "opacity": 1},
       "encoding": {"y": {"field": "k", "type": "ordinal"}, "x": {"field": "lo", "type": "quantitative"}}},
      {"transform": [{"filter": "datum.or <= 10"}],
       "mark": {"type": "circle", "color": "#E0474C", "size": 10, "opacity": 1},
       "encoding": {"y": {"field": "k", "type": "ordinal"}, "x": {"field": "or", "type": "quantitative"}}}
    ]
  },
  {
    "width": 159, "height": 440,
    "data": {"name": "forest"},
    "encoding": {"y": {"field": "k", "type": "ordinal", "scale": {"paddingInner": 0, "paddingOuter": 0, "range": [13.5, 439.5]}, "axis": null}},
    "layer": [
      {"transform": [{"filter": {"field": "s", "oneOf": ["Gastrointestinal discomfort","Blood glucose abnormalities","Cough and expectoration","Lymphoid and glandular enlargement","Thirst or dry mouth","Depression","Muscle or joint pain","Olfactory changes or decline","Palpitations","Brain fog","Shortness of breath or wheezing","Fatigue"]}}],
       "mark": {"type": "rect", "color": "#D9D9D9"},
       "encoding": {
         "x": {"datum": 0, "type": "quantitative", "scale": {"domain": [0, 1], "nice": false, "zero": false}, "axis": {"values": [0.13, 0.34, 0.7], "tickCount": 10, "labelExpr": "datum.value < 0.2 ? 'OR~CI' : datum.value < 0.5 ? 'FDR' : ['Severe symptoms', 'of long COVID']", "title": null, "ticks": false, "domain": false, "labelFontSize": 8.5, "labelOverlap": false, "labelFlush": false, "labelBound": false, "labelPadding": 4, "labelLineHeight": 9}},
         "x2": {"datum": 0.975}
       }},
      {"mark": {"type": "text", "fontSize": 5.5, "color": "#111"}, "encoding": {"x": {"datum": 0.13, "type": "quantitative"}, "text": {"field": "t"}}},
      {"mark": {"type": "text", "fontSize": 5.5, "color": "#111"}, "encoding": {"x": {"datum": 0.34, "type": "quantitative"}, "text": {"field": "f"}}},
      {"mark": {"type": "text", "fontSize": 5.5, "color": "#111"}, "encoding": {"x": {"datum": 0.7, "type": "quantitative"}, "text": {"field": "s"}}}
    ]
  }
  ]
}
],
"spacing": 28
}
